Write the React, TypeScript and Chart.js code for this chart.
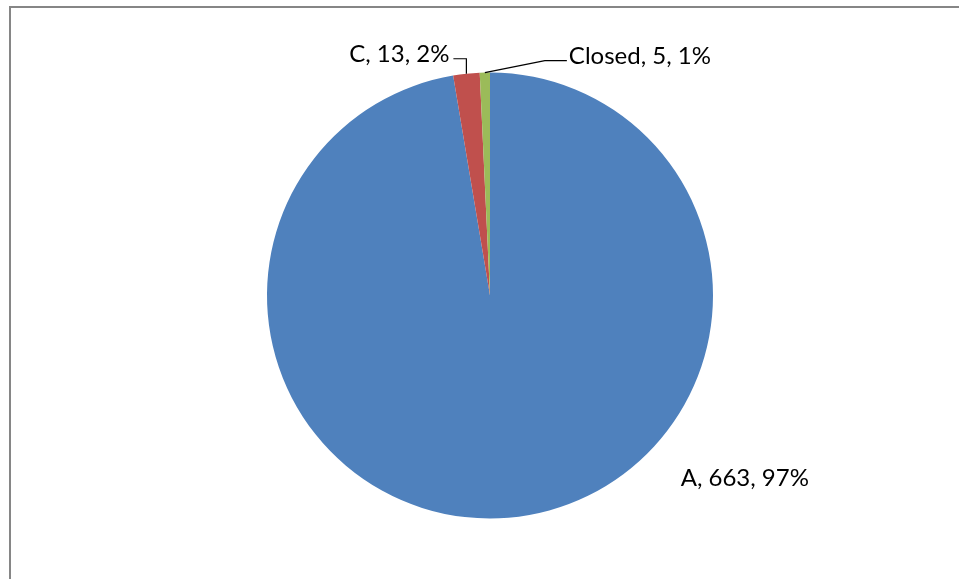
import React, { useEffect, useRef } from 'react';
import { Chart, registerables } from 'chart.js';

Chart.register(...registerables);

const categories = ['A', 'C', 'Closed'];
const values = [663, 13, 5];
const sliceColors = ['#4F81BD', '#C0504D', '#9BBB59'];

const W = 959;
const H = 579;
const FONT = '24px Lato, "Open Sans", sans-serif';

const total = values.reduce((a, b) => a + b, 0);
const labelText = (i: number) =>
  `${categories[i]}, ${values[i]}, ${Math.round((values[i] / total) * 100)}%`;

const framePlugin = {
  id: 'frame',
  beforeDraw(chart: any) {
    const ctx = chart.ctx;
    ctx.save();
    ctx.fillStyle = '#ffffff';
    ctx.fillRect(0, 0, W, H);
    ctx.strokeStyle = '#868686';
    ctx.lineWidth = 2;
    ctx.beginPath();
    ctx.moveTo(10, H);
    ctx.lineTo(10, 7);
    ctx.lineTo(W, 7);
    ctx.stroke();
    ctx.restore();
  },
};

const labelPlugin = {
  id: 'sliceLabels',
  afterDraw(chart: any) {
    const ctx = chart.ctx;
    const meta = chart.getDatasetMeta(0);
    ctx.save();
    ctx.font = FONT;
    ctx.fillStyle = '#000000';
    ctx.strokeStyle = '#000000';
    ctx.lineWidth = 1.2;
    ctx.textBaseline = 'alphabetic';
    meta.data.forEach((arc: any, i: number) => {
      const { x, y, startAngle, endAngle, outerRadius } = arc.getProps(
        ['x', 'y', 'startAngle', 'endAngle', 'outerRadius'],
        true
      );
      const mid = (startAngle + endAngle) / 2;
      const ax = x + Math.cos(mid) * outerRadius;
      const ay = y + Math.sin(mid) * outerRadius;
      const text = labelText(i);
      if (i === 0) {
        ctx.textAlign = 'left';
        ctx.fillText(text, x + outerRadius * 0.855, y + outerRadius * 0.855);
      } else if (i === 1) {
        const ly = ay - 15;
        ctx.beginPath();
        ctx.moveTo(ax, ay);
        ctx.lineTo(ax, ly);
        ctx.lineTo(ax - 13, ly);
        ctx.stroke();
        ctx.textAlign = 'right';
        ctx.fillText(text, ax - 17, ly + 3);
      } else {
        const ly = ay - 12;
        ctx.beginPath();
        ctx.moveTo(ax, ay);
        ctx.lineTo(ax + 60, ly);
        ctx.lineTo(ax + 82, ly);
        ctx.stroke();
        ctx.textAlign = 'left';
        ctx.fillText(text, ax + 84, ly + 3);
      }
    });
    ctx.restore();
  },
};

export default function App() {
  const ref = useRef<HTMLCanvasElement | null>(null);
  useEffect(() => {
    if (!ref.current) return;
    const chart = new Chart(ref.current, {
      type: 'pie',
      data: {
        labels: categories,
        datasets: [
          {
            data: values,
            backgroundColor: sliceColors,
            borderWidth: 0,
          },
        ],
      },
      options: {
        responsive: false,
        animation: false,
        radius: 223,
        layout: { padding: { left: 260, right: 239, top: 65.5, bottom: 53.5 } },
        plugins: {
          legend: { display: false },
          tooltip: { enabled: false },
        },
      } as any,
      plugins: [framePlugin, labelPlugin],
    });
    return () => chart.destroy();
  }, []);
  return (
    <div style={{ position: 'fixed', left: 0, top: 0, width: W, height: H, background: '#fff' }}>
      <canvas ref={ref} width={W} height={H} style={{ display: 'block', width: W, height: H }} />
    </div>
  );
}
